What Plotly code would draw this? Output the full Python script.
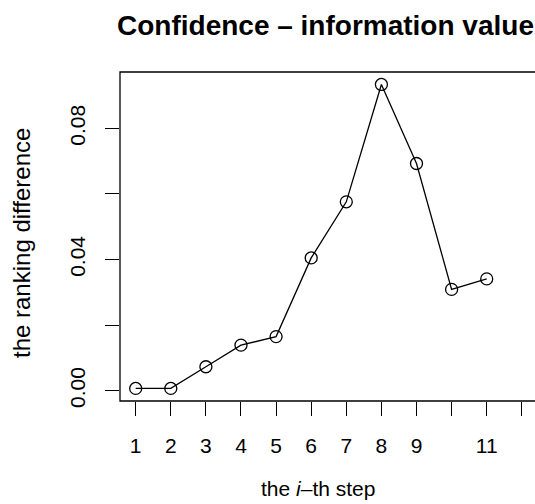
import plotly.graph_objects as go

steps = [1, 2, 3, 4, 5, 6, 7, 8, 9, 10, 11]
ranking_diff = [0.0007, 0.0007, 0.0073, 0.0139, 0.0165, 0.0405, 0.0576, 0.0934, 0.0693, 0.0309, 0.0341]

x_tickvals = [1, 2, 3, 4, 5, 6, 7, 8, 9, 10, 11, 12]
x_ticktext = ["1", "2", "3", "4", "5", "6", "7", "8", "9", "", "11", ""]
y_tickvals = [0.0, 0.02, 0.04, 0.06, 0.08]
y_ticktext = ["0.00", "", "0.04", "", "0.08"]

title_text = "Confidence \u2013 information value"
x_title = "the <i>i</i>\u2013th step"
y_title = "the ranking difference"

FONT = "Liberation Sans, Arial, Helvetica, sans-serif"
W, H = 535, 504
L, R, T, B = 120, 0, 72, 103

fig = go.Figure()
fig.add_trace(go.Scatter(
    x=steps, y=ranking_diff, mode="lines+markers",
    line=dict(color="black", width=1.3),
    marker=dict(symbol="circle-open", size=12, color="black", line=dict(width=1.3, color="black")),
    showlegend=False, cliponaxis=False, hoverinfo="skip",
))

fig.update_layout(
    width=W, height=H,
    margin=dict(l=L, r=R, t=T, b=B, pad=0),
    paper_bgcolor="white", plot_bgcolor="white",
    font=dict(family=FONT, color="black", size=21),
    xaxis=dict(range=[0.553, 12.376], tickvals=x_tickvals, ticktext=x_ticktext,
               ticks="outside", ticklen=14, tickwidth=1, tickcolor="black",
               showgrid=False, zeroline=False, showline=False,
               tickfont=dict(size=21), ticklabelstandoff=12),
    yaxis=dict(range=[-0.00314, 0.0972], tickvals=y_tickvals, ticktext=y_ticktext,
               ticks="outside", ticklen=14, tickwidth=1, tickcolor="black",
               showgrid=False, zeroline=False, showline=False,
               tickangle=-90, tickfont=dict(size=21), ticklabelstandoff=12),
    shapes=[dict(type="rect", xref="paper", yref="paper", x0=0, x1=1.05, y0=0, y1=1,
                 line=dict(color="black", width=1.3), fillcolor="rgba(0,0,0,0)", layer="above")],
    annotations=[
        dict(text="<b>" + title_text + "</b>", xref="paper", yref="paper",
             x=(325 - L) / (W - L - R), y=1 + (T - 25) / (H - T - B),
             xanchor="center", yanchor="middle", showarrow=False,
             font=dict(size=28, family=FONT)),
        dict(text=x_title, xref="paper", yref="paper",
             x=(318 - L) / (W - L - R), y=-(488 - (H - B)) / (H - T - B),
             xanchor="center", yanchor="middle", showarrow=False,
             font=dict(size=21, family=FONT)),
        dict(text=y_title, xref="paper", yref="paper", textangle=-90,
             x=-(L - 21) / (W - L - R), y=1 - (243 - T) / (H - T - B),
             xanchor="center", yanchor="middle", showarrow=False,
             font=dict(size=24, family=FONT)),
    ],
)

fig.write_html("out.html", config={"displayModeBar": False, "staticPlot": True},
               post_script="document.body.style.margin='0';")
